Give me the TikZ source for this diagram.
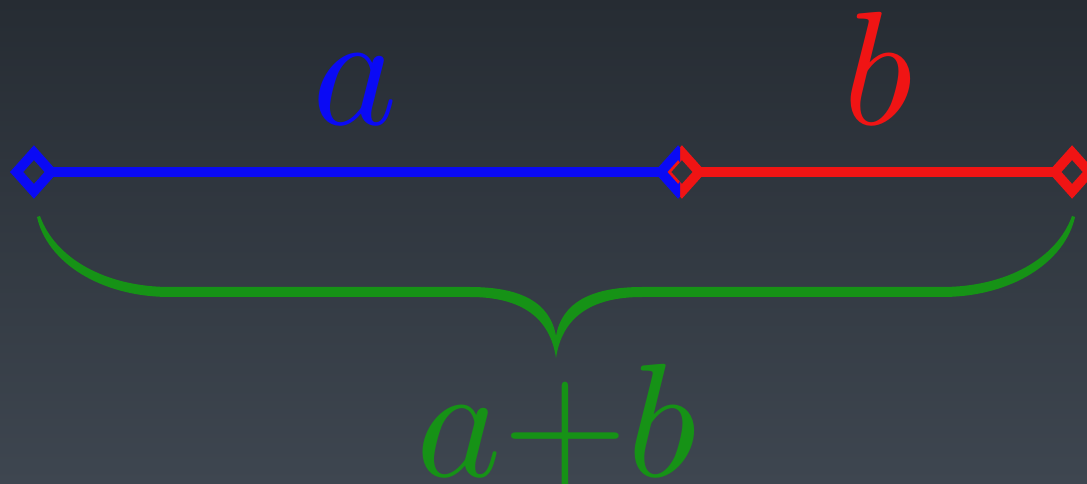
\documentclass[tikz,border=0pt]{standalone}
\usetikzlibrary{arrows.meta}
\definecolor{bgtop}{HTML}{262C33}
\definecolor{bgbot}{HTML}{3E4650}
\definecolor{segblue}{HTML}{0A0AF5}
\definecolor{segred}{HTML}{F01414}
\definecolor{sumgreen}{HTML}{169216}
\begin{document}
\begin{tikzpicture}[x=0.025cm, y=-0.025cm,
    seg/.style={line width=7pt, {Diamond[open,length=34pt,width=38pt]}-{Diamond[open,length=34pt,width=38pt]}},
    lbl/.style={anchor=base, inner sep=0pt, scale=11.5}
]
    % background
    \shade [top color=bgtop, bottom color=bgbot] (0,0) rectangle (1087,484);
    \useasboundingbox (0,0) rectangle (1087,484);

    \coordinate (aL) at (10,172);
    \coordinate (aR) at (702,172);
    \coordinate (bL) at (658,172);
    \coordinate (bR) at (1096,172);

    \draw [seg, segred] (bL) -- (bR);
    \begin{scope}
        \clip (0,0) rectangle (680,484);
        \draw [seg, segblue] (aL) -- (aR);
    \end{scope}

    \node [lbl, text=segblue] (la) at (355,125) {$a$};
    \node [lbl, text=segred] (lb) at (878,125) {$b$};

    % brace under both parts, thin at the ends
    \fill [sumgreen]
        (37,217) .. controls (47,262) and (100,297) .. (170,297)
        -- (470,297) .. controls (522,297) and (550,318) .. (556,358)
        .. controls (562,318) and (590,297) .. (642,297)
        -- (942,297) .. controls (1012,297) and (1065,262) .. (1075,217)
        -- (1072,216)
        .. controls (1057,258) and (1007,287) .. (942,287)
        -- (642,287) .. controls (592,287) and (562,302) .. (556,336)
        .. controls (550,302) and (520,287) .. (470,287)
        -- (170,287) .. controls (105,287) and (55,258) .. (40,216) -- cycle;

    \node [lbl, text=sumgreen] (lab) at (557,477) {$a{+}b$};
\end{tikzpicture}
\end{document}
